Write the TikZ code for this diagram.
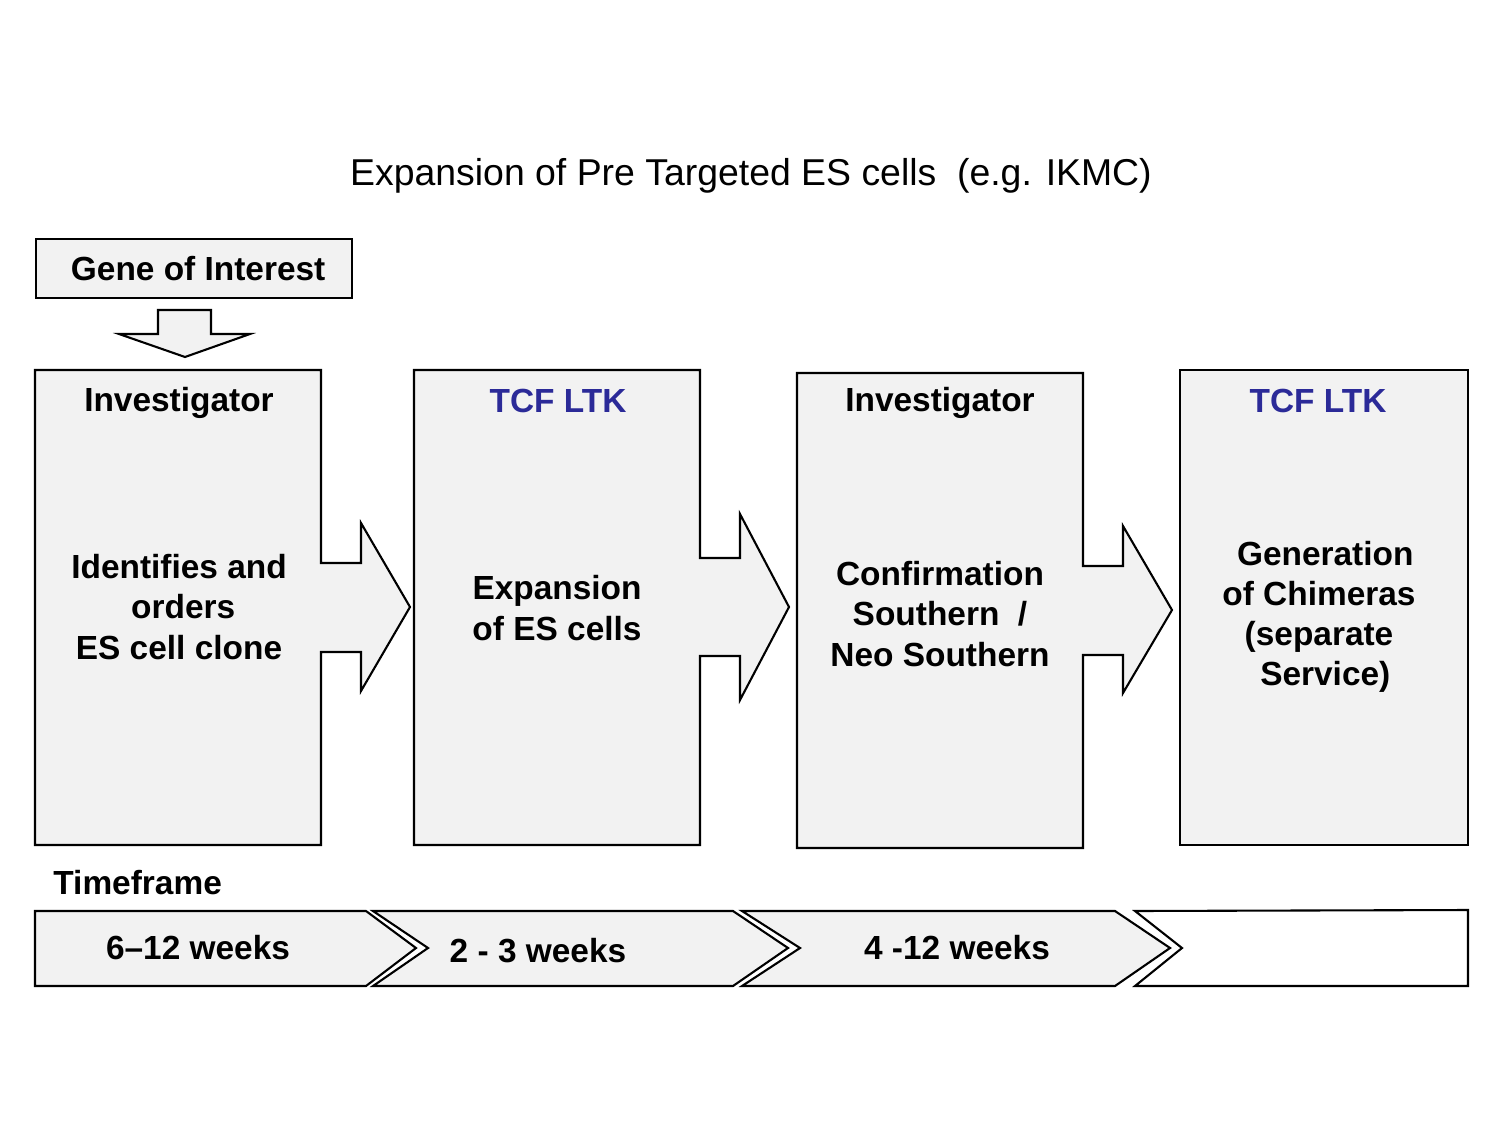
\documentclass[tikz,border=0pt]{standalone}
\usepackage{fontspec}
\setmainfont{Liberation Sans}
\usepackage{tikz}

\definecolor{boxgrey}{RGB}{242,242,242}
\definecolor{tcfblue}{RGB}{43,42,152}
\newcommand{\txtb}{\fontsize{16pt}{19.2pt}\selectfont\bfseries}
\newcommand{\txtt}{\fontsize{17.9pt}{21.5pt}\selectfont}

\begin{document}
\begin{tikzpicture}[x=0.4787pt,y=-0.4787pt,
  shp/.style={draw,line width=1pt,fill=boxgrey,line join=miter},
  lbl/.style={font=\txtb,align=center,inner sep=0pt},
  tcf/.style={lbl,text=tcfblue}]
\useasboundingbox (0,0) rectangle (1504,1129);

\node[font=\txtt] (title) at (751,176) {Expansion of Pre Targeted ES cells\ \ (e.g. IKMC)};

\node[shp,lbl,minimum width=151.3pt,minimum height=28.2pt] (gene) at (194,268.5) {\hspace*{4pt}Gene of Interest};
\draw[shp] (158,310) -- (211,310) -- (211,334) -- (250,334) -- (185,357) -- (119,334) -- (158,334) -- cycle;

% boxes with their arrows
\draw[shp] (35,370) -- (321,370) -- (321,563) -- (361,563) -- (361,523) -- (410,607) -- (361,691)
  -- (361,652) -- (321,652) -- (321,845) -- (35,845) -- cycle;
\draw[shp] (414,370) -- (700,370) -- (700,558) -- (740,558) -- (740,514) -- (789,607) -- (740,700)
  -- (740,656) -- (700,656) -- (700,845) -- (414,845) -- cycle;
\draw[shp] (797,373) -- (1083,373) -- (1083,566) -- (1123,566) -- (1123,526) -- (1172,610) -- (1123,693)
  -- (1123,655) -- (1083,655) -- (1083,848) -- (797,848) -- cycle;
\draw[shp] (1180,370) rectangle (1468,845);

\node[lbl] (inv1) at (179,403) {Investigator};
\node[tcf] (tcf1) at (558,401) {TCF LTK};
\node[lbl] (inv2) at (940,403) {Investigator};
\node[tcf] (tcf2) at (1318,401) {TCF LTK};

\node[lbl] (step1) at (179,607) {Identifies and\\\hspace*{4pt}orders\\ES cell clone};
\node[lbl] (step2) at (557,608) {Expansion\\of ES cells};
\node[lbl] (step3) at (940,614) {Confirmation\\Southern\ \ /\\Neo Southern};
\node[lbl] (step4) at (1319,617) {\hspace*{6pt}Generation\\of Chimeras\\(separate\\\hspace*{6pt}Service)};

% timeframe
\node[lbl,anchor=west] (tframe) at (53,883) {Timeframe};
\draw[shp] (35,911) -- (366,911) -- (416,948) -- (366,986) -- (35,986) -- cycle;
\draw[shp] (373,911) -- (733,911) -- (788,948) -- (733,986) -- (373,986) -- (428,948) -- cycle;
\draw[shp] (742,911) -- (1115,911) -- (1170,948) -- (1115,986) -- (742,986) -- (800,948) -- cycle;
\draw[shp,fill=white] (1135,911) -- (1468,910) -- (1468,986) -- (1135,986) -- (1182,948) -- cycle;

\node[lbl] (wk1) at (198,948) {6--12 weeks};
\node[lbl] (wk2) at (538,951) {2 - 3 weeks};
\node[lbl] (wk3) at (957,948) {4 -12 weeks};
\end{tikzpicture}
\end{document}
